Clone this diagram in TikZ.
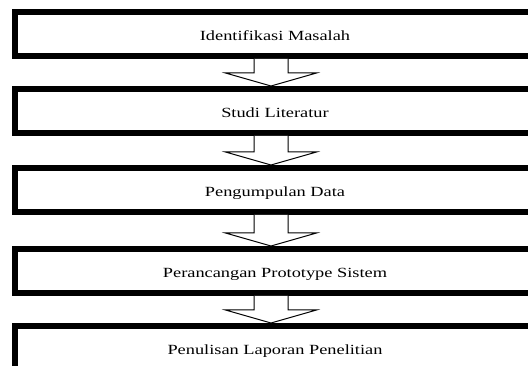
\documentclass[tikz,border=0pt]{standalone}
\usepackage{fontspec}
\setmainfont{Liberation Serif}[FakeStretch=1.31]
\usepackage{tikz}
\usetikzlibrary{calc}

% hollow block arrow from the bottom of one box to the top of the next
\newcommand{\blockarrow}[2]{%
    \draw[arrowline] ($(#1.south -| ax)+(-17,0)$) -- ($(#2.north -| ax)+(-17,-13)$)
        -- ($(#2.north -| ax)+(-45.5,-13)$) -- (#2.north -| ax)
        -- ($(#2.north -| ax)+(45.5,-13)$) -- ($(#2.north -| ax)+(17,-13)$)
        -- ($(#1.south -| ax)+(17,0)$);
}

\begin{document}
\begin{tikzpicture}[x=1pt, y=-1pt,
    stagebox/.style={draw, line width=6pt, minimum width=585.5pt, minimum height=44pt, inner sep=0pt},
    stagetext/.style={anchor=base, inner sep=0pt, font=\fontsize{14}{16}\selectfont},
    arrowline/.style={line width=1pt, fill=white}]
    \useasboundingbox (0,0) rectangle (528,366);
    \clip (0,0) rectangle (528,366);
    \coordinate (ax) at (271,0);

    \node[stagebox] (b1) at (307.25,34) {};
    \node[stagebox] (b2) at (307.25,111) {};
    \node[stagebox] (b3) at (307.25,190) {};
    \node[stagebox] (b4) at (307.25,271) {};
    \node[stagebox] (b5) at (307.25,348) {};

    \node[stagetext] (t1) at (275,41) {Identifikasi Masalah};
    \node[stagetext] (t2) at (275,118) {Studi Literatur};
    \node[stagetext] (t3) at (275,197) {Pengumpulan Data};
    \node[stagetext] (t4) at (275,278) {Perancangan Prototype Sistem};
    \node[stagetext] (t5) at (275,355) {Penulisan Laporan Penelitian};

    \blockarrow{b1}{b2}
    \blockarrow{b2}{b3}
    \blockarrow{b3}{b4}
    \blockarrow{b4}{b5}
\end{tikzpicture}
\end{document}
